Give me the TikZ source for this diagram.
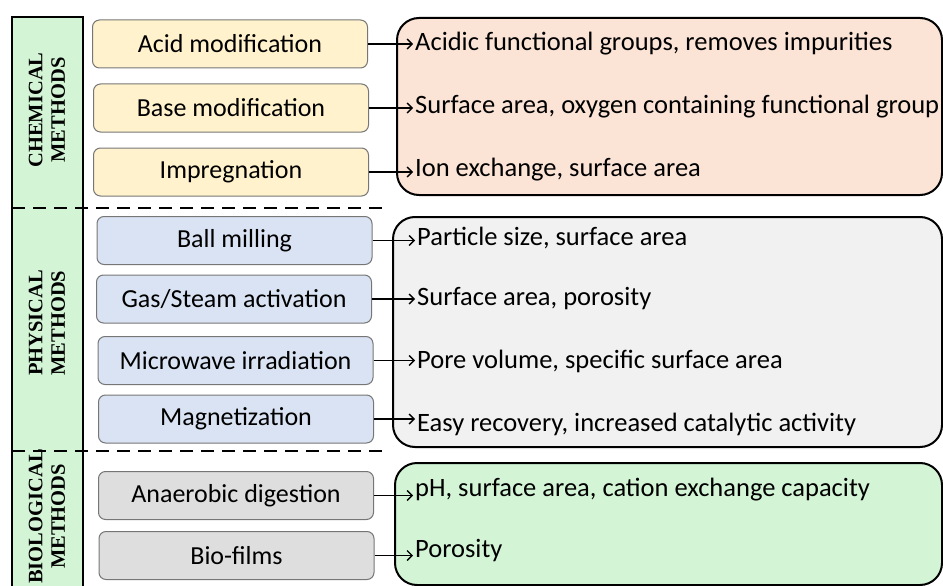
\documentclass[tikz,border=0pt]{standalone}
\usepackage{fontspec}
\setmainfont{Carlito}
\newfontfamily\serifb{Liberation Serif}
\usetikzlibrary{arrows.meta}
\definecolor{bargreen}{HTML}{D3F5D6}
\definecolor{chemfill}{HTML}{FFF2CC}
\definecolor{physfill}{HTML}{DAE3F3}
\definecolor{biofill}{HTML}{DEDEDE}
\definecolor{peachfill}{HTML}{FBE3D6}
\definecolor{grayfill}{HTML}{F1F1F1}
\definecolor{greenfill}{HTML}{D3F5D6}
\definecolor{boxedge}{HTML}{767676}
\tikzset{
  methbox/.style={draw=boxedge, rounded corners=7pt, line width=1pt, minimum width=275pt,
    minimum height=48pt, inner sep=0pt, font=\fontsize{26}{30}\selectfont},
  resbox/.style={draw=black, rounded corners=22pt, line width=2pt, inner sep=0pt},
  restext/.style={anchor=west, inner sep=2pt, font=\fontsize{26.5}{30}\selectfont},
  sidelbl/.style={rotate=90, align=center, inner sep=0pt,
    font=\serifb\bfseries\fontsize{20.5}{22.5}\selectfont},
  sepline/.style={line width=2.6pt, dash pattern=on 13pt off 8pt},
  arr/.style={line width=1.6pt, -{Straight Barb[length=5pt,width=10pt,line width=1.4pt]}}
}
\begin{document}
\begin{tikzpicture}[x=1pt,y=-1pt]
\useasboundingbox (0,0) rectangle (943,586);
\clip (0,0) rectangle (943,586);
% left bar
\node[draw=black, line width=2.6pt, fill=bargreen, minimum width=71pt, minimum height=583pt, inner sep=0pt] (bar) at (47.5,308.5) {};
\node[sidelbl] (lc) at (47,110) {CHEMICAL\\METHODS};
\node[sidelbl] (lp) at (47,323) {PHYSICAL\\METHODS};
\node[sidelbl] (lb) at (47,516.5) {BIOLOGICAL\\METHODS};
% separators
\coordinate (s1a) at (12,208); \coordinate (s1b) at (382,208);
\coordinate (s2a) at (12,451); \coordinate (s2b) at (382,451);
\draw[sepline] (s1a) -- (s1b);
\draw[sepline] (s2a) -- (s2b);
% result boxes
\node[resbox, fill=peachfill, minimum width=545pt, minimum height=177pt] (rc) at (669.5,106.5) {};
\node[resbox, fill=grayfill, minimum width=549pt, minimum height=230pt] (rp) at (667.5,332) {};
\node[resbox, fill=greenfill, minimum width=547pt, minimum height=122pt] (rb) at (668.5,524) {};
% method boxes
\node[methbox, fill=chemfill] (m1) at (230,44) {Acid modification};
\node[methbox, fill=chemfill] (m2) at (231,108) {Base modification};
\node[methbox, fill=chemfill] (m3) at (231,172) {Impregnation};
\node[methbox, fill=physfill] (m4) at (234.5,240.5) {Ball milling};
\node[methbox, fill=physfill] (m5) at (234,299) {Gas/Steam activation};
\node[methbox, fill=physfill] (m6) at (235.5,360.5) {Microwave irradiation};
\node[methbox, fill=physfill] (m7) at (236,419) {Magnetization};
\node[methbox, fill=biofill] (m8) at (236,495.5) {Anaerobic digestion};
\node[methbox, fill=biofill] (m9) at (236.5,555.5) {Bio-films};
% result texts
\node[restext] (t1) at (413,44) {Acidic functional groups, removes impurities};
\node[restext] (t2) at (413,107) {Surface area, oxygen containing functional group};
\node[restext] (t3) at (413,170) {Ion exchange, surface area};
\node[restext] (t4) at (415,238) {Particle size, surface area};
\node[restext] (t5) at (415,299) {Surface area, porosity};
\node[restext] (t6) at (415,361) {Pore volume, specific surface area};
\node[restext] (t7) at (415,424) {Easy recovery, increased catalytic activity};
\node[restext] (t8) at (413,490) {pH, surface area, cation exchange capacity};
\node[restext] (t9) at (413,551) {Porosity};
% arrows
\foreach \i in {1,...,9}{
  \draw[arr] (m\i.east) -- (m\i.east -| t\i.west);
}
\end{tikzpicture}
\end{document}
